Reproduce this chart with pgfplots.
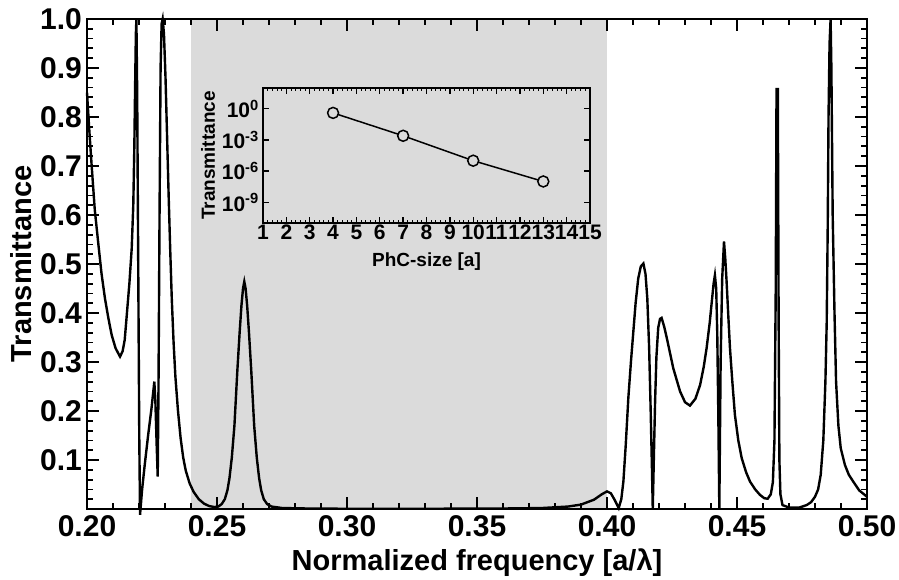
\documentclass[border=0pt]{standalone}
\usepackage{fontspec}
\setmainfont{Liberation Sans}
\usepackage{pgfplots}
\pgfplotsset{compat=1.18}
\definecolor{bandgray}{RGB}{219,219,219}
\begin{document}
\begin{tikzpicture}
\begin{axis}[
  name=main,
  scale only axis, width=780pt, height=490pt,
  xmin=0.2, xmax=0.5, ymin=0, ymax=1,
  axis on top, clip=false,
  axis line style={line width=2.6pt},
  xtick={0.2,0.25,0.3,0.35,0.4,0.45,0.5},
  xticklabels={0.20,0.25,0.30,0.35,0.40,0.45,0.50},
  minor x tick num=4,
  ytick={0,0.1,0.2,0.3,0.4,0.5,0.6,0.7,0.8,0.9,1.0},
  yticklabels={,0.1,0.2,0.3,0.4,0.5,0.6,0.7,0.8,0.9,1.0},
  minor y tick num=4,
  tick align=inside,
  major tick length=12pt, minor tick length=6pt,
  every major tick/.append style={line width=2.2pt, black},
  every minor tick/.append style={line width=1.8pt, black},
  tick label style={font=\fontsize{30}{30}\selectfont\bfseries},
  xticklabel style={inner sep=6pt},
  yticklabel style={inner sep=5pt},
  xlabel={Normalized frequency [a/λ]},
  ylabel={Transmittance},
  label style={font=\fontsize{29}{29}\selectfont\bfseries},
  xlabel style={at={(axis description cs:0.5,-0.1102)}, anchor=center},
  ylabel style={at={(axis description cs:-0.0845,0.5)}, anchor=center},
]
\fill[bandgray] (axis cs:0.24,0) rectangle (axis cs:0.40,1);
\addplot[black, line width=2.4pt] coordinates {
(0.2000,0.85) (0.2008,0.78) (0.2018,0.70) (0.2030,0.61) (0.2044,0.539)
(0.2056,0.48) (0.2069,0.43) (0.2082,0.39) (0.2095,0.355) (0.2110,0.328)
(0.2127,0.311) (0.2137,0.322) (0.2145,0.345) (0.2153,0.396) (0.2163,0.46)
(0.2172,0.532) (0.2178,0.62) (0.2182,0.737) (0.2185,0.86) (0.2188,0.97)
(0.2190,1.00) (0.2193,0.85) (0.2197,0.50) (0.2201,0.15) (0.2204,-0.012)
(0.2212,0.04) (0.2222,0.09) (0.2235,0.15) (0.2248,0.205) (0.2256,0.245)
(0.2259,0.26) (0.2263,0.22) (0.2268,0.13) (0.2272,0.066) (0.2275,0.25)
(0.2279,0.60) (0.2283,0.90) (0.2287,0.99) (0.2291,1.00) (0.2296,0.97)
(0.2302,0.88) (0.2308,0.76) (0.2314,0.64) (0.2320,0.53) (0.2326,0.43)
(0.2333,0.34) (0.2340,0.27) (0.2350,0.20) (0.2360,0.145) (0.2370,0.105)
(0.2380,0.078) (0.2395,0.052) (0.2410,0.035) (0.2430,0.020) (0.2450,0.011)
(0.2470,0.006) (0.2490,0.004) (0.2505,0.005) (0.2518,0.010) (0.2530,0.020)
(0.2540,0.038) (0.2548,0.063) (0.2557,0.105) (0.2567,0.17) (0.2578,0.28)
(0.2587,0.36) (0.2594,0.415) (0.2600,0.450) (0.2605,0.464) (0.2610,0.450)
(0.2616,0.415) (0.2623,0.36) (0.2632,0.28) (0.2643,0.17) (0.2653,0.105)
(0.2662,0.063) (0.2670,0.038) (0.2680,0.020) (0.2693,0.010) (0.2710,0.005)
(0.2750,0.002) (0.2850,0.001)
(0.3000,0.0005) (0.3300,0.0005) (0.3600,0.001) (0.3750,0.002) (0.3850,0.005)
(0.3900,0.009) (0.3950,0.019) (0.3980,0.030) (0.4000,0.036) (0.4015,0.032)
(0.4030,0.018) (0.4045,0.002) (0.4055,0.02) (0.4063,0.056) (0.4072,0.13)
(0.4082,0.226) (0.4092,0.30) (0.4101,0.36) (0.4110,0.42) (0.4120,0.47)
(0.4130,0.495) (0.4140,0.501) (0.4148,0.48) (0.4155,0.43) (0.4162,0.33)
(0.4168,0.20) (0.4173,0.08) (0.4176,0.00) (0.4180,0.10) (0.4185,0.22)
(0.4190,0.31) (0.4197,0.37) (0.4204,0.388) (0.4210,0.390) (0.4220,0.372)
(0.4230,0.349) (0.4255,0.287) (0.4281,0.240) (0.4300,0.218) (0.4319,0.211)
(0.4340,0.225) (0.4358,0.253) (0.4372,0.29) (0.4383,0.328) (0.4395,0.38)
(0.4403,0.423) (0.4410,0.46) (0.4415,0.477) (0.4420,0.45) (0.4424,0.36)
(0.4428,0.20) (0.4432,0.00) (0.4437,0.30) (0.4443,0.47) (0.4450,0.546)
(0.4455,0.51) (0.4460,0.464) (0.4466,0.40) (0.4473,0.328) (0.4482,0.26)
(0.4492,0.192) (0.4505,0.14) (0.4518,0.104) (0.4535,0.075) (0.4550,0.056)
(0.4570,0.040) (0.4588,0.029) (0.4605,0.022) (0.4618,0.021) (0.4630,0.030)
(0.4638,0.055) (0.4644,0.14) (0.4649,0.45) (0.4652,0.857) (0.4657,0.857)
(0.4660,0.40) (0.4663,0.10) (0.4667,0.03) (0.4675,0.008) (0.4700,0.003)
(0.4740,0.003) (0.4768,0.008) (0.4785,0.014) (0.4800,0.025) (0.4812,0.040)
(0.4822,0.070) (0.4832,0.14) (0.4840,0.26) (0.4845,0.38) (0.4849,0.58)
(0.4852,0.80) (0.4856,0.95) (0.4860,1.00) (0.4863,0.90) (0.4868,0.60)
(0.4875,0.40) (0.4881,0.26) (0.4890,0.17) (0.4899,0.124) (0.4915,0.09)
(0.4930,0.07) (0.4947,0.056) (0.4970,0.038) (0.5000,0.025)
};
\end{axis}
\begin{axis}[
  at={(176pt,286pt)}, anchor=south west,
  scale only axis, width=327pt, height=135pt,
  xmin=1, xmax=15, ymode=log, ymin=1e-11, ymax=1e2,
  axis line style={line width=1.4pt},
  xtick={1,2,3,4,5,6,7,8,9,10,11,12,13,14,15},
  xticklabels={1,2,3,4,5,6,7,8,9,10,11,12,13,14,15},
  minor x tick num=4,
  ytick={1,1e-3,1e-6,1e-9},
  yticklabels={10\textsuperscript{0},10\textsuperscript{-3},10\textsuperscript{-6},10\textsuperscript{-9}},
  minor ytick={},
  tick align=inside,
  major tick length=6pt, minor tick length=3pt,
  every major tick/.append style={line width=1.3pt, black},
  every minor tick/.append style={line width=1pt, black},
  tick label style={font=\fontsize{21}{21}\selectfont\bfseries},
  xticklabel style={inner sep=2pt},
  yticklabel style={inner sep=4pt},
  xlabel={PhC-size [a]},
  ylabel={Transmittance},
  label style={font=\fontsize{19}{19}\selectfont\bfseries},
  xlabel style={at={(axis description cs:0.5,-0.289)}, anchor=center},
  ylabel style={at={(axis description cs:-0.168,0.5)}, anchor=center},
]
\addplot[black, line width=1.5pt, mark=*, mark size=5.5pt,
  mark options={fill=bandgray, draw=black, line width=1.5pt}]
  coordinates {(4,0.4) (7,2.5e-3) (10,1e-5) (13,1e-7)};
\end{axis}
\pgfresetboundingbox
\path (-87pt,-70pt) rectangle (812pt,509pt);
\end{tikzpicture}
\end{document}
